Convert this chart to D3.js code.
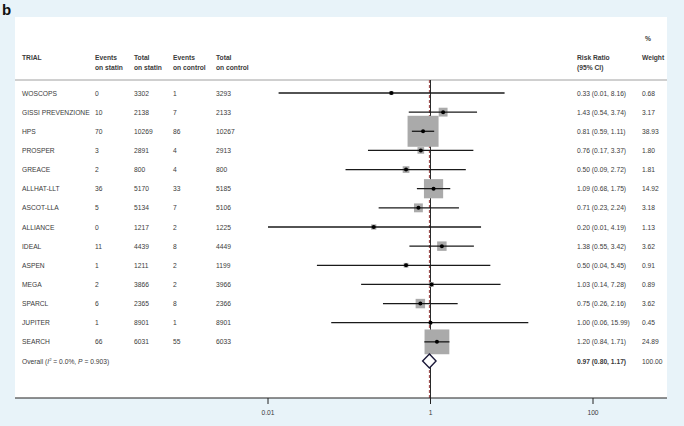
<!DOCTYPE html>
<html><head><meta charset="utf-8">
<script src="https://cdn.jsdelivr.net/npm/d3@7"></script>
<style>
html,body{margin:0;padding:0;background:#e8f3f9;}
svg{display:block;font-family:"Liberation Sans",Arial,sans-serif;}
</style></head>
<body>
<svg id="c" width="684" height="426"></svg>
<script>
const trials = ["WOSCOPS","GISSI PREVENZIONE","HPS","PROSPER","GREACE","ALLHAT-LLT","ASCOT-LLA","ALLIANCE","IDEAL","ASPEN","MEGA","SPARCL","JUPITER","SEARCH"];
const eventsStatin = [0,10,70,3,2,36,5,0,11,1,2,6,1,66];
const totalStatin = [3302,2138,10269,2891,800,5170,5134,1217,4439,1211,3866,2365,8901,6031];
const eventsControl = [1,7,86,4,4,33,7,2,8,2,2,8,1,55];
const totalControl = [3293,2133,10267,2913,800,5185,5106,1225,4449,1199,3966,2366,8901,6033];
const riskRatio = [0.33,1.43,0.81,0.76,0.50,1.09,0.71,0.20,1.38,0.50,1.03,0.75,1.00,1.20];
const ciLow = [0.0135,0.54,0.59,0.17,0.09,0.68,0.23,0.01,0.55,0.04,0.14,0.26,0.06,0.84];
const ciHigh = [8.16,3.74,1.11,3.37,2.72,1.75,2.24,4.19,3.42,5.45,7.28,2.16,15.99,1.71];
const weights = [0.68,3.17,38.93,1.80,1.81,14.92,3.18,1.13,3.62,0.91,0.89,3.62,0.45,24.89];
const overall = {rr:0.97, lo:0.80, hi:1.17, weight:100.00, i2:"0.0%", p:"0.903"};
const tickValues = [0.01, 1, 100];
const tickLabels = ["0.01","1","100"];

const svg = d3.select("#c");
const f2 = d3.format(".2f");
const txt = "#3a3a3a";
const fs = 6.7;

// panel
svg.append("rect").attr("x",15).attr("y",17).attr("width",652).attr("height",381).attr("fill","#fff");
svg.append("text").attr("x",2).attr("y",14.5).attr("font-size",15).attr("font-weight","bold").attr("fill","#111").text("b");

const x = d3.scaleLog().domain([0.01,100]).range([268,593]);
const rows = trials.map((d,i)=>i);
const y = d3.scalePoint().domain(d3.range(15)).range([93,361]);
const side = d3.scaleSqrt().domain([0,38.93]).range([0,31]);

const cols = {trial:22, eS:95, tS:134, eC:173, tC:216, rr:577, w:642};

// header
const hdr = svg.append("g").attr("font-size",fs).attr("fill",txt).attr("font-weight","bold");
hdr.append("text").attr("x",cols.trial).attr("y",59.5).text("TRIAL");
[[cols.eS,"Events","on statin"],[cols.tS,"Total","on statin"],[cols.eC,"Events","on control"],[cols.tC,"Total","on control"]].forEach(([cx,a,b])=>{
  hdr.append("text").attr("x",cx).attr("y",59.5).text(a);
  hdr.append("text").attr("x",cx).attr("y",70).text(b);
});
hdr.append("text").attr("x",cols.rr).attr("y",59.5).text("Risk Ratio");
hdr.append("text").attr("x",cols.rr).attr("y",70).text("(95% CI)");
hdr.append("text").attr("x",cols.w+3).attr("y",41).text("%");
hdr.append("text").attr("x",cols.w).attr("y",59.5).text("Weight");
svg.append("line").attr("x1",15).attr("x2",667).attr("y1",80).attr("y2",80).attr("stroke","#a0a0a0").attr("stroke-width",1);

// reference lines
svg.append("line").attr("x1",x(1)).attr("x2",x(1)).attr("y1",80).attr("y2",398).attr("stroke","#2a2a2a").attr("stroke-width",1);
svg.append("line").attr("x1",x(overall.rr)).attr("x2",x(overall.rr)).attr("y1",80).attr("y2",398)
  .attr("stroke","#a05050").attr("stroke-width",1.1).attr("stroke-dasharray","3,2");

// table rows
const tbl = svg.append("g").attr("font-size",fs).attr("fill",txt);
rows.forEach(i=>{
  const yy = y(i)+2.5;
  tbl.append("text").attr("x",cols.trial).attr("y",yy).text(trials[i]);
  tbl.append("text").attr("x",cols.eS).attr("y",yy).text(eventsStatin[i]);
  tbl.append("text").attr("x",cols.tS).attr("y",yy).text(totalStatin[i]);
  tbl.append("text").attr("x",cols.eC).attr("y",yy).text(eventsControl[i]);
  tbl.append("text").attr("x",cols.tC).attr("y",yy).text(totalControl[i]);
  tbl.append("text").attr("x",cols.rr).attr("y",yy).text(`${f2(riskRatio[i])} (${f2(ciLow[i])}, ${f2(ciHigh[i])})`);
  tbl.append("text").attr("x",cols.w).attr("y",yy).text(f2(weights[i]));
});

// marks
const g = svg.append("g");
g.selectAll("rect.box").data(rows).join("rect").attr("class","box")
  .attr("x",i=>x(riskRatio[i])-side(weights[i])/2).attr("y",i=>y(i)-side(weights[i])/2)
  .attr("width",i=>side(weights[i])).attr("height",i=>side(weights[i])).attr("fill","#aaaaaa");
g.selectAll("line.ci").data(rows).join("line").attr("class","ci")
  .attr("x1",i=>x(ciLow[i])).attr("x2",i=>x(ciHigh[i])).attr("y1",i=>y(i)).attr("y2",i=>y(i))
  .attr("stroke","#1a1a1a").attr("stroke-width",1.3);
g.selectAll("circle.pt").data(rows).join("circle").attr("class","pt")
  .attr("cx",i=>x(riskRatio[i])).attr("cy",i=>y(i)).attr("r",2).attr("fill","#000");

// overall
const oy = y(14);
const ot = svg.append("text").attr("x",cols.trial).attr("y",oy+2.5).attr("font-size",fs).attr("fill",txt);
ot.append("tspan").text("Overall  (");
ot.append("tspan").attr("font-style","italic").text("I");
ot.append("tspan").attr("font-size",4.2).attr("dy",-3).text("2");
ot.append("tspan").attr("dy",3).text(` = ${overall.i2}, `);
ot.append("tspan").attr("font-style","italic").text("P");
ot.append("tspan").text(` = ${overall.p})`);
svg.append("text").attr("x",cols.rr).attr("y",oy+2.5).attr("font-size",fs).attr("font-weight","bold").attr("fill",txt)
  .text(`${f2(overall.rr)} (${f2(overall.lo)}, ${f2(overall.hi)})`);
svg.append("text").attr("x",cols.w).attr("y",oy+2.5).attr("font-size",fs).attr("fill",txt).text(f2(overall.weight));
const dh = 7;
svg.append("path")
  .attr("d",`M${x(overall.lo)},${oy} L${x(overall.rr)},${oy-dh} L${x(overall.hi)},${oy} L${x(overall.rr)},${oy+dh} Z`)
  .attr("fill","#fff").attr("stroke","#1c1a3a").attr("stroke-width",1.4);

// axis
const ax = svg.append("g").attr("transform","translate(0,398)");
ax.append("line").attr("x1",15).attr("x2",667).attr("stroke","#222").attr("stroke-width",1.2);
ax.selectAll("line.t").data(tickValues).join("line").attr("class","t")
  .attr("x1",d=>x(d)).attr("x2",d=>x(d)).attr("y1",0).attr("y2",6).attr("stroke","#222").attr("stroke-width",1);
ax.selectAll("text").data(tickValues).join("text").attr("x",d=>x(d)).attr("y",17)
  .attr("text-anchor","middle").attr("font-size",fs).attr("fill",txt).text((d,i)=>tickLabels[i]);
</script>
</body></html>
